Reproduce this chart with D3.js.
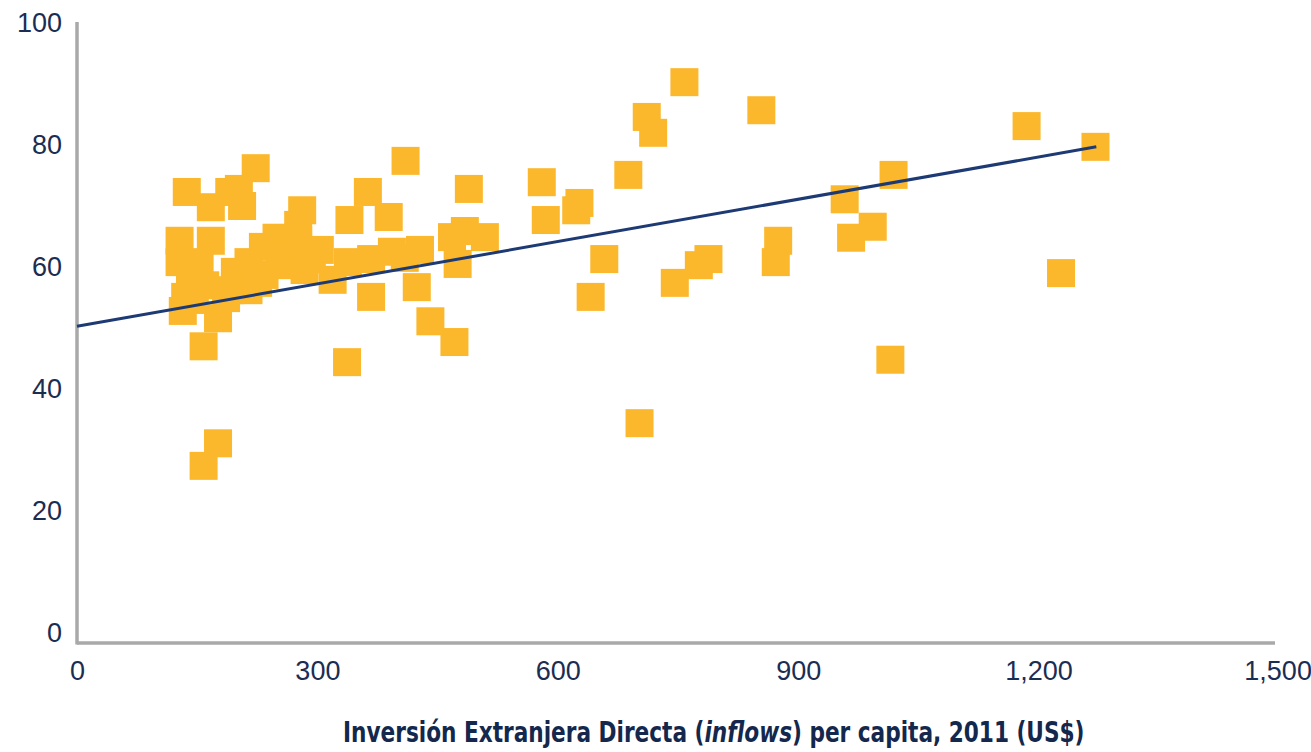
<!DOCTYPE html>
<html>
<head>
<meta charset="utf-8">
<script src="https://cdn.jsdelivr.net/npm/d3@7"></script>
<style>
  body { margin: 0; background: #fff; }
  .tick text { font-family: "Liberation Sans", Arial, sans-serif; font-size: 27px; fill: #1b2d52; }
</style>
</head>
<body>
<svg class="chart" width="1311" height="752"></svg>
<script>
// FDI inflows per capita 2011 (US$) for each country
const fdiPerCapita = [758, 854, 711, 719, 688, 580, 585, 627, 623, 658, 641, 746, 776, 788, 875, 872, 702,
    1185, 1271, 1019, 958, 993, 966, 1228, 1015,
    410, 489, 484, 509, 468, 475, 424, 441, 471, 428, 393, 367, 363, 340, 389, 337, 319, 338, 367, 409,
    223, 137, 190, 202, 206, 167, 128, 167, 128, 141, 160, 132, 176, 158, 176, 158,
    281, 276, 249, 232, 276, 293, 214, 214, 191, 234, 266, 253, 284, 135, 153, 147, 303, 197, 226, 186];

// index value on the vertical axis
const indexValue = [90.3, 85.7, 84.6, 82.0, 75.1, 73.9, 67.7, 70.5, 69.3, 61.3, 55.1, 57.4, 60.3, 61.3, 64.3, 60.8, 34.4,
    83.1, 79.7, 75.1, 71.1, 66.6, 64.8, 59.0, 44.8,
    77.4, 72.8, 65.9, 64.9, 64.9, 60.5, 56.7, 51.1, 47.7, 62.8, 62.5, 55.1, 72.3, 67.7, 68.2, 44.4, 57.9, 60.8, 61.3, 61.5,
    76.2, 72.3, 72.3, 72.8, 70.0, 69.8, 64.3, 64.3, 60.8, 58.7, 57.0, 52.8, 51.6, 47.0, 31.1, 27.4,
    69.3, 66.9, 64.8, 63.3, 64.4, 61.3, 60.8, 56.2, 56.2, 58.7, 60.3, 62.0, 59.5, 55.1, 60.8, 54.6, 62.8, 59.2, 57.4, 54.9];

// linear trend line end points
const trendX = [0, 1272];
const trendY = [50.3, 79.7];

const xTicks = [0, 300, 600, 900, 1200, 1500];
const yTicks = [0, 20, 40, 60, 80, 100];

const svg = d3.select('.chart');

// scales
const x = d3.scaleLinear().domain([0, 1500]).range([77, 1279]);
const y = d3.scaleLinear().domain([0, 100]).range([633, 23]);

const axisY = y(0) + 10;

// y axis labels
svg.append('g')
    .attr('transform', 'translate(' + x(0) + ',0)')
    .call(d3.axisLeft(y).tickValues(yTicks).tickSize(0).tickPadding(15))
    .call(g => g.select('.domain').remove());

// x axis labels
svg.append('g')
    .attr('transform', 'translate(0,' + axisY + ')')
    .call(d3.axisBottom(x).tickValues(xTicks).tickFormat(d3.format(',')).tickSize(0).tickPadding(18))
    .call(g => g.select('.domain').remove())
    .call(g => g.selectAll('.tick text').filter(d => d === 1500).attr('text-anchor', 'end').attr('dx', '1.2em'));

// axis lines
svg.append('line')
    .attr('x1', x(0)).attr('x2', x(0))
    .attr('y1', y(100) - 1).attr('y2', axisY + 1.5)
    .attr('stroke', '#a9a9a9').attr('stroke-width', 3.5);

svg.append('line')
    .attr('x1', x(0)).attr('x2', x(1495))
    .attr('y1', axisY).attr('y2', axisY)
    .attr('stroke', '#a9a9a9').attr('stroke-width', 3.5);

// squares
const size = 28;
svg.selectAll('.pt')
    .data(fdiPerCapita.map((d, i) => [d, indexValue[i]]))
    .enter().append('rect')
    .attr('class', 'pt')
    .attr('x', d => x(d[0]) - size / 2)
    .attr('y', d => y(d[1]) - size / 2)
    .attr('width', size)
    .attr('height', size)
    .attr('fill', '#fcb82c');

// trend line
svg.append('path')
    .datum(trendX.map((d, i) => [d, trendY[i]]))
    .attr('fill', 'none')
    .attr('stroke', '#1d3a75')
    .attr('stroke-width', 3)
    .attr('d', d3.line().x(d => x(d[0])).y(d => y(d[1])));

// axis title
const title = svg.append('text')
    .attr('x', 0)
    .attr('y', 0)
    .style('font-family', '"Liberation Sans Narrow", "DejaVu Sans Condensed", sans-serif')
    .style('font-weight', 'bold')
    .style('font-size', '29px')
    .style('fill', '#14284d');
title.append('tspan').text('Inversión Extranjera Directa (');
title.append('tspan').style('font-style', 'italic').text('inflows');
title.append('tspan').text(') per capita,  2011 (US$)');

const w = title.node().getComputedTextLength();
const targetW = 742;
title.attr('transform', 'translate(' + (714 - targetW / 2) + ',742) scale(' + (targetW / w) + ',1)');
</script>
</body>
</html>
